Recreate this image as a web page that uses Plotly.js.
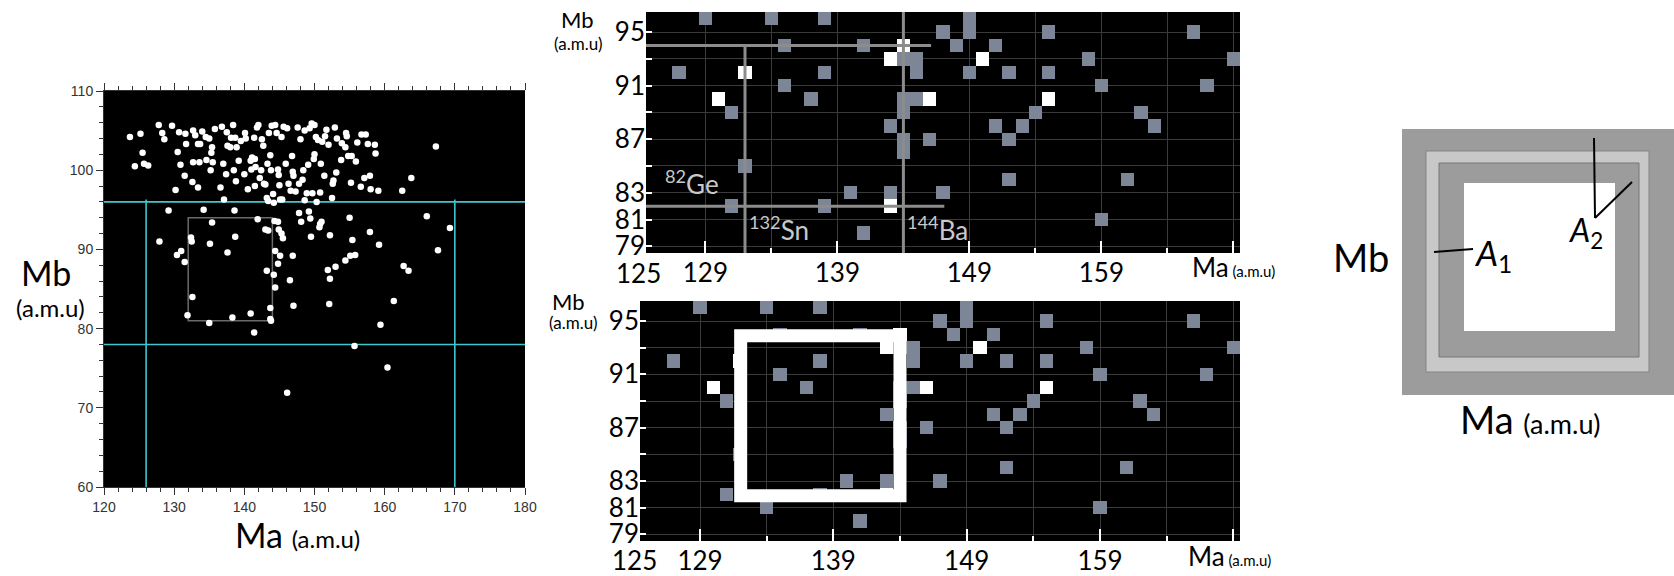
<!DOCTYPE html>
<html>
<head>
<meta charset="utf-8">
<script src="https://cdn.plot.ly/plotly-3.0.1.min.js"></script>
<style>html,body{margin:0;padding:0;background:#fff;}#chart{width:1674px;height:576px;}</style>
</head>
<body>
<div id="chart"></div>
<script>
// ---------- DATA ----------
// Left panel: fragment pairs (Ma, Mb) in a.m.u
const dotMa = [123.7,124.4,125.2,125.5,125.7,126.3,127.8,128.3,128.6,129.7,130.2,130.5,130.7,130.9,131.5,131.6,131.7,132.7,133.0,132.7,
132.6,133.4,133.4,133.7,133.6,134.0,134.5,134.6,135.0,135.2,135.3,135.4,135.5,135.8,136.6,136.8,137.0,137.1,137.4,137.5,
137.6,138.0,138.1,138.4,138.5,138.8,138.7,138.9,139.2,139.5,140.0,140.1,140.2,140.5,140.9,141.0,141.1,141.4,141.5,141.6,
141.5,141.8,142.0,142.2,142.4,142.5,142.7,142.8,143.0,143.2,143.3,143.4,143.5,143.7,143.8,143.9,144.1,144.2,144.4,144.6,
144.8,144.9,145.0,145.1,145.3,145.4,145.6,145.9,146.1,146.3,146.6,146.8,146.9,147.0,147.3,147.6,147.8,148.0,148.3,148.4,
148.6,148.6,148.9,149.1,149.3,149.6,149.7,149.9,150.0,150.0,150.2,150.3,150.5,150.8,150.9,151.1,151.4,151.5,151.7,152.0,
152.5,152.6,152.7,152.9,153.1,153.2,153.8,153.9,154.4,154.5,154.6,154.8,155.2,155.3,155.9,156.1,156.6,156.7,157.1,157.3,
157.6,157.9,158.0,158.6,158.7,159.1,162.5,163.8,167.3,
129.2,127.9,130.4,131.0,131.5,132.4,132.5,132.6,131.9,134.2,135.1,135.4,135.0,137.6,138.6,138.7,138.3,140.9,141.4,141.9,
143.0,143.4,143.2,143.7,143.7,143.8,144.2,144.3,144.8,144.4,144.4,144.9,145.1,144.8,145.3,145.5,146.5,146.9,147.0,147.8,
148.1,149.2,149.4,149.5,150.7,150.8,151.0,151.9,152.2,152.1,152.2,153.0,154.4,155.0,155.1,155.4,155.8,155.7,157.9,159.2,
159.4,160.4,161.3,162.7,163.4,166.0,167.6,169.3,146.1];
const dotMb = [104.2,100.5,104.6,102.2,100.8,100.6,105.7,104.7,103.9,105.6,97.5,102.3,104.8,100.7,99.3,104.6,103.3,105.0,104.4,101.0,
98.5,97.8,103.3,103.3,101.0,104.9,104.2,101.3,104.0,100.0,102.2,102.9,101.0,105.2,97.8,105.5,100.8,96.3,99.5,104.8,
103.1,102.9,104.1,105.7,100.0,98.6,104.1,102.9,101.2,103.7,99.5,104.7,104.0,97.6,101.2,100.1,101.6,104.1,98.0,100.4,
101.4,105.4,105.7,99.0,100.0,103.9,103.1,98.3,98.2,96.5,100.8,96.1,104.7,101.9,100.0,105.6,97.0,95.9,105.7,104.7,
100.1,99.4,98.1,96.3,104.2,96.3,105.5,100.8,105.3,98.3,97.4,101.8,99.8,99.3,97.3,105.4,98.3,103.9,98.8,100.0,
96.2,105.0,97.1,100.7,105.3,105.9,97.1,101.4,102.0,105.7,104.2,96.0,103.8,97.2,100.8,103.6,99.3,104.3,105.1,103.2,
96.5,98.3,98.7,105.4,99.7,104.0,101.3,103.4,102.9,104.7,104.3,101.8,98.4,101.8,101.1,103.5,97.9,104.5,99.0,104.5,
103.3,99.3,97.6,103.2,102.1,97.4,97.4,99.0,103.0,
94.9,91.0,89.3,89.8,88.4,91.5,91.0,84.0,81.7,95.0,90.7,93.4,80.7,89.6,94.9,91.6,81.4,81.9,79.5,93.8,
92.5,92.4,87.3,82.6,81.2,81.0,86.8,93.6,93.5,89.8,85.2,92.5,89.2,88.2,92.0,91.4,86.1,89.2,82.9,94.6,
93.5,94.8,93.9,91.6,92.8,93.2,93.5,87.4,86.3,83.1,91.8,87.8,88.6,94.0,89.2,91.2,89.3,77.8,92.2,90.6,
80.5,75.1,83.5,87.9,87.3,94.2,89.9,92.7,71.9];

// Left panel guide values
const cutMbLow = 78, cutMbHigh = 96, cutMaLow = 126, cutMaHigh = 170;
const boxMa = [132, 144], boxMb = [81, 94];

// Middle panels: yield map cells (Ma, Mb)
const maCells = [125,126,127,128,129,130,131,132,133,134,135,136,137,138,139,140,141,142,143,144,145,146,147,148,149,150,151,152,153,154,155,156,157,158,159,160,161,162,163,164,165,166,167,168,169];
const mbCells = [79,80,81,82,83,84,85,86,87,88,89,90,91,92,93,94,95,96];
const grayMa = [129,134,138,149, 147,149,155,166, 135,141,148,151, 144,145,158,169, 127,138,145,149,152,155, 135,159,167,
                137,144,145, 131,144,154,162, 143,151,153,163, 144,146,152, 144, 132, 152,161, 140,143,147, 131,138, 159, 141];
const grayMb = [96,96,96,96, 95,95,95,95, 94,94,94,94, 93,93,93,93, 92,92,92,92,92,92, 91,91,91,
                90,90,90, 89,89,89,89, 88,88,88,88, 87,87,87, 86, 85, 84,84, 83,83,83, 82,82, 81, 80];
const whiteMa = [144,143,150,132,130,146,155,143];
const whiteMb = [94,93,93,92,90,90,90,82];
const extraBottomMa = [134];   // cell visible only in the lower map
const extraBottomMb = [81];

// Highlighted nuclei in the upper map
const shellMa = [132, 144], shellMb = [82, 94];
const isoLabels = ['<sup>82</sup>Ge', '<sup>132</sup>Sn', '<sup>144</sup>Ba'];

// Tick labels for maps
const mapXTicks = [129,139,149,159,169];
const mapXText = ['129','139','149','159',''];
const mapXMinor = [134,144,154,164];
const mapYTicks = [79,81,83,85,87,89,91,93,95];
const mapYText = ['79','81','83','','87','','91','','95'];

// ---------- BUILD ----------
const W = 1674, H = 576;
const px = v => v / W, py = v => 1 - v / H;

function buildZ(extraMa, extraMb) {
  const z = mbCells.map(() => maCells.map(() => null));
  const put = (mas, mbs, val) => mas.forEach((m, i) => {
    const c = maCells.indexOf(m), r = mbCells.indexOf(mbs[i]);
    if (c >= 0 && r >= 0) z[r][c] = val;
  });
  put(grayMa, grayMb, 1);
  put(extraMa, extraMb, 1);
  put(whiteMa, whiteMb, 2);
  return z;
}

const cellScale = [[0,'#7c8697'],[0.5,'#7c8697'],[0.5,'#ffffff'],[1,'#ffffff']];

const traces = [
  {type:'scatter', mode:'markers', x:dotMa, y:dotMb, xaxis:'x', yaxis:'y',
   marker:{color:'#ffffff', size:6.5}, hoverinfo:'skip'},
  {type:'heatmap', x:maCells, y:mbCells, z:buildZ([],[]), xaxis:'x2', yaxis:'y2',
   colorscale:cellScale, zmin:1, zmax:2, showscale:false, hoverinfo:'skip'},
  {type:'heatmap', x:maCells, y:mbCells, z:buildZ(extraBottomMa, extraBottomMb), xaxis:'x3', yaxis:'y3',
   colorscale:cellScale, zmin:1, zmax:2, showscale:false, hoverinfo:'skip'}
];

const FONT = 'Lato, "Open Sans", sans-serif';
const leftTick = {family:'"Liberation Sans", Arial, sans-serif', size:14, color:'#333'};
const mapTick = {family:FONT, size:26, color:'#000'};
const grid = '#3a3a3a';

function mapX(dom, anchor) {
  return {domain:dom, anchor:anchor, range:[124.5,169.5], tickmode:'array', tickvals:mapXTicks, ticktext:mapXText,
    ticks:'inside', ticklen:12, tickwidth:2, tickcolor:'#fff', showgrid:true, gridcolor:grid, gridwidth:1,
    minor:{tickvals:mapXMinor, ticks:'inside', ticklen:5, tickwidth:2, tickcolor:'#fff', showgrid:true, gridcolor:grid},
    zeroline:false, showline:false, tickfont:mapTick, ticklabelstandoff:2, fixedrange:true};
}
function mapY(dom, anchor) {
  return {domain:dom, anchor:anchor, range:[78.5,96.5], tickmode:'array', tickvals:mapYTicks, ticktext:mapYText,
    ticks:'inside', ticklen:6, tickwidth:2, tickcolor:'#fff', showgrid:true, gridcolor:grid, gridwidth:1,
    zeroline:false, showline:false, tickfont:mapTick, ticklabelstandoff:0, fixedrange:true};
}

const shapes = [];
// left panel guides
const cyan = {color:'#3fc6cf', width:1.6};
shapes.push({type:'line', xref:'x', yref:'y', x0:120, x1:180, y0:cutMbHigh, y1:cutMbHigh, line:cyan, layer:'below'});
shapes.push({type:'line', xref:'x', yref:'y', x0:120, x1:180, y0:cutMbLow, y1:cutMbLow, line:cyan, layer:'below'});
shapes.push({type:'line', xref:'x', yref:'y', x0:cutMaLow, x1:cutMaLow, y0:60, y1:96.3, line:cyan, layer:'below'});
shapes.push({type:'line', xref:'x', yref:'y', x0:cutMaHigh, x1:cutMaHigh, y0:60, y1:96.3, line:cyan, layer:'below'});
shapes.push({type:'rect', xref:'x', yref:'y', x0:boxMa[0], x1:boxMa[1], y0:boxMb[0], y1:boxMb[1],
  line:{color:'#6a6a6a', width:1.5}, layer:'below'});
// upper map shell lines
const gl = {color:'#8c8c8c', width:3};
shapes.push({type:'line', xref:'x2', yref:'y2', x0:124.5, x1:146.1, y0:shellMb[1], y1:shellMb[1], line:gl});
shapes.push({type:'line', xref:'x2', yref:'y2', x0:124.5, x1:147.1, y0:shellMb[0], y1:shellMb[0], line:gl});
shapes.push({type:'line', xref:'x2', yref:'y2', x0:shellMa[0], x1:shellMa[0], y0:78.5, y1:94.1, line:gl});
shapes.push({type:'line', xref:'x2', yref:'y2', x0:shellMa[1], x1:shellMa[1], y0:78.5, y1:96.7, line:gl});
// lower map window
shapes.push({type:'rect', xref:'x3', yref:'y3', x0:132.05, x1:144.0, y0:81.9, y1:93.9, line:{color:'#ffffff', width:13}});

// right schematic (pixel geometry of the sketch)
const sketchRects = [
  {x0:1402, x1:1674, y0:129, y1:395, fill:'#9c9c9c', line:'rgba(0,0,0,0)'},
  {x0:1426, x1:1649, y0:151, y1:372, fill:'#c8c8c8', line:'#858585'},
  {x0:1439, x1:1639, y0:163, y1:357, fill:'#9c9c9c', line:'#777777'},
  {x0:1464, x1:1615, y0:183, y1:331, fill:'#ffffff', line:'rgba(0,0,0,0)'}
];
sketchRects.forEach(r => shapes.push({type:'rect', xref:'paper', yref:'paper',
  x0:px(r.x0), x1:px(r.x1), y0:py(r.y1), y1:py(r.y0), fillcolor:r.fill, line:{color:r.line, width:1}}));
const sketchLines = [[1594,138,1595,218],[1595,218,1632,182],[1434,252,1473,249]];
sketchLines.forEach(l => shapes.push({type:'line', xref:'paper', yref:'paper',
  x0:px(l[0]), y0:py(l[1]), x1:px(l[2]), y1:py(l[3]), line:{color:'#000', width:2}}));

function ann(text, x, y, size, opts) {
  return Object.assign({xref:'paper', yref:'paper', x:px(x), y:py(y), text:text, showarrow:false,
    xanchor:'center', yanchor:'middle', font:{family:FONT, size:size, color:'#000'}}, opts || {});
}
const annotations = [
  // left panel
  ann('Mb', 46, 272, 34),
  ann('(a.m.u)', 50, 307, 24),
  ann('Ma <span style="font-size:24px">(a.m.u)</span>', 233, 534, 34, {xanchor:'left'}),
  // upper map
  ann('Mb', 577, 20, 22),
  ann('(a.m.u)', 578, 44, 17),
  ann('125', 638, 273, 26),
  ann('Ma<span style="font-size:15px"> (a.m.u)</span>', 1190, 267, 26, {xanchor:'left'}),
  // lower map
  ann('Mb', 568, 301, 22),
  ann('(a.m.u)', 573, 322, 17),
  ann('125', 634, 560, 26),
  ann('Ma<span style="font-size:15px"> (a.m.u)</span>', 1186, 556, 26, {xanchor:'left'}),
  // right schematic
  ann('Mb', 1361, 257, 38),
  ann('Ma <span style="font-size:27px">(a.m.u)</span>', 1458, 419, 38, {xanchor:'left'}),
  ann('<i>A</i><sub>2</sub>', 1566, 232, 32, {xanchor:'left'}),
  ann('<i>A</i><sub>1</sub>', 1472, 255, 35, {xanchor:'left'})
];
// isotope labels on upper map
const isoX = [125.8, 132.15, 144.15], isoY = [83.8, 80.3, 80.3];
isoLabels.forEach((t, i) => annotations.push({xref:'x2', yref:'y2', x:isoX[i], y:isoY[i], text:t, showarrow:false,
  xanchor:'left', yanchor:'middle', font:{family:FONT, size:26, color:'#c9c9c9'}}));

const layout = {
  width:W, height:H, margin:{l:0, r:0, t:0, b:0}, paper_bgcolor:'#ffffff', plot_bgcolor:'#000000',
  showlegend:false, hovermode:false,
  xaxis:{domain:[px(104), px(525)], anchor:'y', range:[120,180], tick0:120, dtick:10, ticks:'outside', ticklen:7,
    tickcolor:'#333', tickwidth:1, showline:true, linecolor:'#333', linewidth:1, mirror:'ticks',
    minor:{dtick:2, ticks:'outside', ticklen:4, tickcolor:'#333'}, showgrid:false, zeroline:false,
    tickfont:leftTick, fixedrange:true},
  yaxis:{domain:[py(487), py(91)], anchor:'x', range:[60,110], tick0:60, dtick:10, ticks:'outside', ticklen:7,
    tickcolor:'#333', tickwidth:1, showline:true, linecolor:'#333', linewidth:1,
    minor:{dtick:2, ticks:'outside', ticklen:4, tickcolor:'#333'}, showgrid:false, zeroline:false,
    tickfont:leftTick, fixedrange:true},
  xaxis2:mapX([px(646), px(1240)], 'y2'),
  yaxis2:mapY([py(253), py(12)], 'x2'),
  xaxis3:mapX([px(640), px(1240)], 'y3'),
  yaxis3:mapY([py(541), py(301)], 'x3'),
  shapes:shapes,
  annotations:annotations
};

Plotly.newPlot('chart', traces, layout, {displayModeBar:false, staticPlot:true});
</script>
</body>
</html>
